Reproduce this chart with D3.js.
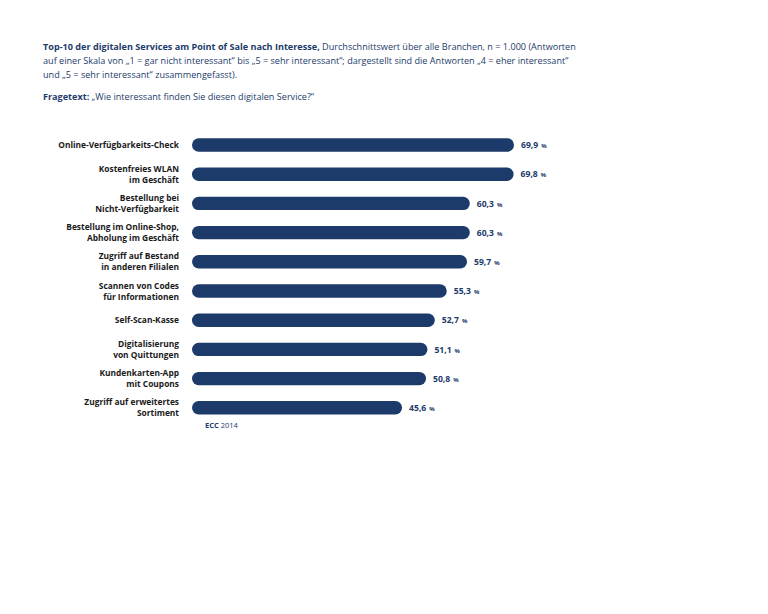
<!DOCTYPE html>
<html><head><meta charset="utf-8">
<script src="https://cdn.jsdelivr.net/npm/d3@7"></script>
<style>body{margin:0;background:#fff;}svg{display:block;}</style>
</head><body>
<svg id="c" width="768" height="614"></svg>
<script>
const categories = [
  ["Online-Verfügbarkeits-Check"],
  ["Kostenfreies WLAN","im Geschäft"],
  ["Bestellung bei","Nicht-Verfügbarkeit"],
  ["Bestellung im Online-Shop,","Abholung im Geschäft"],
  ["Zugriff auf Bestand","in anderen Filialen"],
  ["Scannen von Codes","für Informationen"],
  ["Self-Scan-Kasse"],
  ["Digitalisierung","von Quittungen"],
  ["Kundenkarten-App","mit Coupons"],
  ["Zugriff auf erweitertes","Sortiment"]
];
const values = [69.9, 69.8, 60.3, 60.3, 59.7, 55.3, 52.7, 51.1, 50.8, 45.6];
const valueLabels = ["69,9","69,8","60,3","60,3","59,7","55,3","52,7","51,1","50,8","45,6"];

const navy = "#1d3b6a";
const font = "'Open Sans', sans-serif";
const svg = d3.select("#c");

// Title
const ts = 9.1;
const t = svg.append("text").attr("x", 43).attr("y", 50).attr("font-family", font).attr("font-size", ts).attr("fill", navy);
t.append("tspan").attr("font-weight", "bold").text("Top-10 der digitalen Services am Point of Sale nach Interesse, ");
t.append("tspan").text("Durchschnittswert über alle Branchen, n = 1.000 (Antworten");
svg.append("text").attr("x", 43).attr("y", 64).attr("font-family", font).attr("font-size", ts).attr("fill", navy)
  .text("auf einer Skala von „1 = gar nicht interessant“ bis „5 = sehr interessant“; dargestellt sind die Antworten „4 = eher interessant“");
svg.append("text").attr("x", 43).attr("y", 78).attr("font-family", font).attr("font-size", ts).attr("fill", navy)
  .text("und „5 = sehr interessant“ zusammengefasst).");
const f = svg.append("text").attr("x", 43).attr("y", 100).attr("font-family", font).attr("font-size", ts).attr("fill", navy);
f.append("tspan").attr("font-weight", "bold").text("Fragetext: ");
f.append("tspan").text(" „Wie interessant finden Sie diesen digitalen Service?“");

// Scales
const x = d3.scaleLinear().domain([0, 100]).range([192, 192 + 460.7]);
const y = d3.scaleBand().domain(d3.range(values.length)).range([130.4, 422.4]).paddingInner(0.54).paddingOuter(0.27);
const bh = y.bandwidth();

const g = svg.append("g");
g.selectAll("rect").data(values).join("rect")
  .attr("x", x(0)).attr("y", (d, i) => y(i))
  .attr("width", d => x(d) - x(0)).attr("height", bh)
  .attr("rx", bh / 2).attr("fill", navy);

// values
const vl = g.selectAll("text.v").data(values).join("text").attr("class", "v")
  .attr("x", d => x(d) + 7).attr("y", (d, i) => y(i) + bh / 2 + 3.2)
  .attr("font-family", font).attr("font-size", 8.6).attr("font-weight", "bold").attr("fill", navy);
vl.append("tspan").text((d, i) => valueLabels[i]);
vl.append("tspan").attr("font-size", 6).attr("dx", 3).text("%");

// category labels
categories.forEach((lines, i) => {
  const cy = y(i) + bh / 2;
  const tx = g.append("text").attr("x", 179).attr("text-anchor", "end")
    .attr("font-family", font).attr("font-size", 8.4).attr("font-weight", "bold").attr("fill", "#1a1a1a");
  const n = lines.length;
  lines.forEach((l, j) => {
    tx.append("tspan").attr("x", 179).attr("y", cy + 3 + (j - (n - 1) / 2) * 11).text(l);
  });
});

// source
const s = svg.append("text").attr("x", 205).attr("y", 428).attr("font-family", font).attr("font-size", 7.5).attr("fill", navy);
s.append("tspan").attr("font-weight", "bold").text("ECC ");
s.append("tspan").text("2014");
</script>
</body></html>
